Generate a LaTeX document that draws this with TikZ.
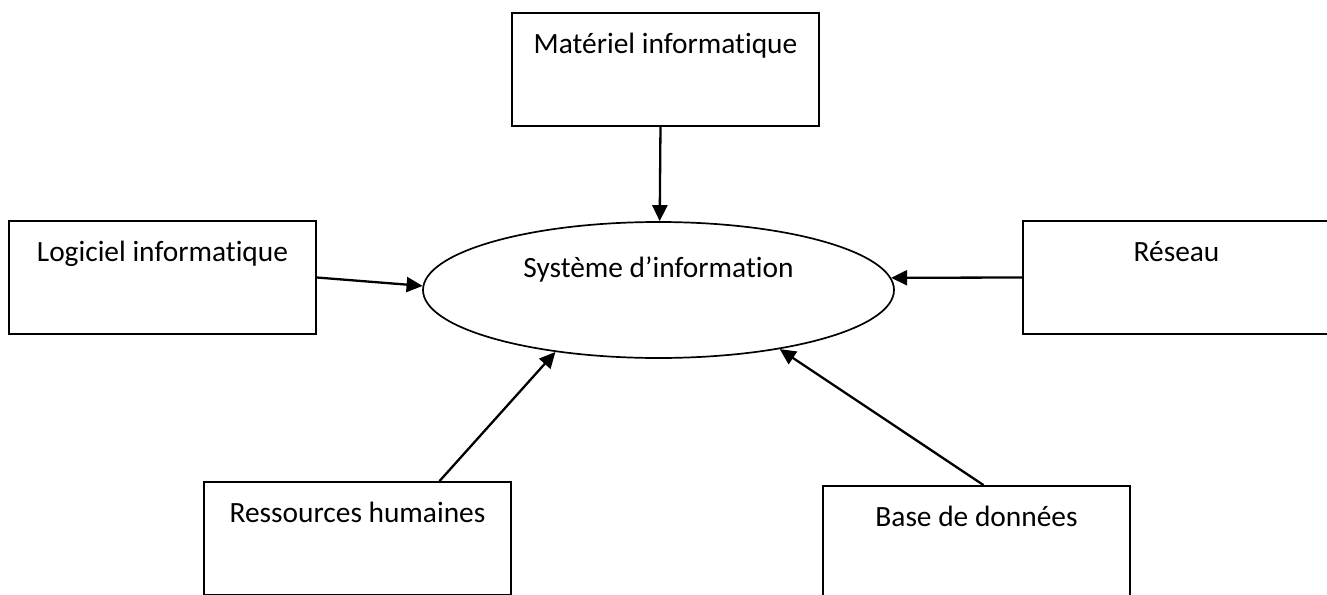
\documentclass[tikz,border=0pt]{standalone}
\usepackage{fontspec}
\setmainfont[Ligatures=NoCommon]{Carlito}
\usepackage{tikz}
\usetikzlibrary{positioning, shapes.geometric, arrows.meta}

\tikzset{
	sibox/.style={rectangle, draw, line width=0.9pt, inner sep=0, minimum width=153.5pt, minimum height=56.5pt, text height=20pt, text depth=36.5pt, font=\fontsize{14.7}{17}\selectfont},
	sicore/.style={ellipse, draw, line width=0.85pt, inner sep=0, minimum width=235.5pt, minimum height=68pt, text height=10pt, text depth=23pt, font=\fontsize{14.7}{17}\selectfont},
	siarrow/.style={line width=1.15pt, -{Triangle[length=8pt, width=7.5pt]}}
}

\begin{document}
\begin{tikzpicture}[x=0.5pt, y=-0.5pt]
	\useasboundingbox (0,0) rectangle (1327,594);
	\node[sicore] at(658.5, 290) (si) {Système d’information};
	\node[sibox] at(665.5, 69.5) (mat) {Matériel informatique};
	\node[sibox] at(162.5, 277.5) (log) {Logiciel informatique};
	\node[sibox] at(1176.5, 277.5) (res) {Réseau};
	\node[sibox] at(357.5, 538.5) (rh) {Ressources humaines};
	\node[sibox] at(976.5, 542.5) (bd) {Base de données};
	\path
		(mat.265) edge[siarrow] (si.89)
		(log.east) edge[siarrow] (si.179)
		(res.west) edge[siarrow] (si.3)
		(rh.35) edge[siarrow] (si.211)
		(bd.83) edge[siarrow] (si.334);
\end{tikzpicture}
\end{document}
